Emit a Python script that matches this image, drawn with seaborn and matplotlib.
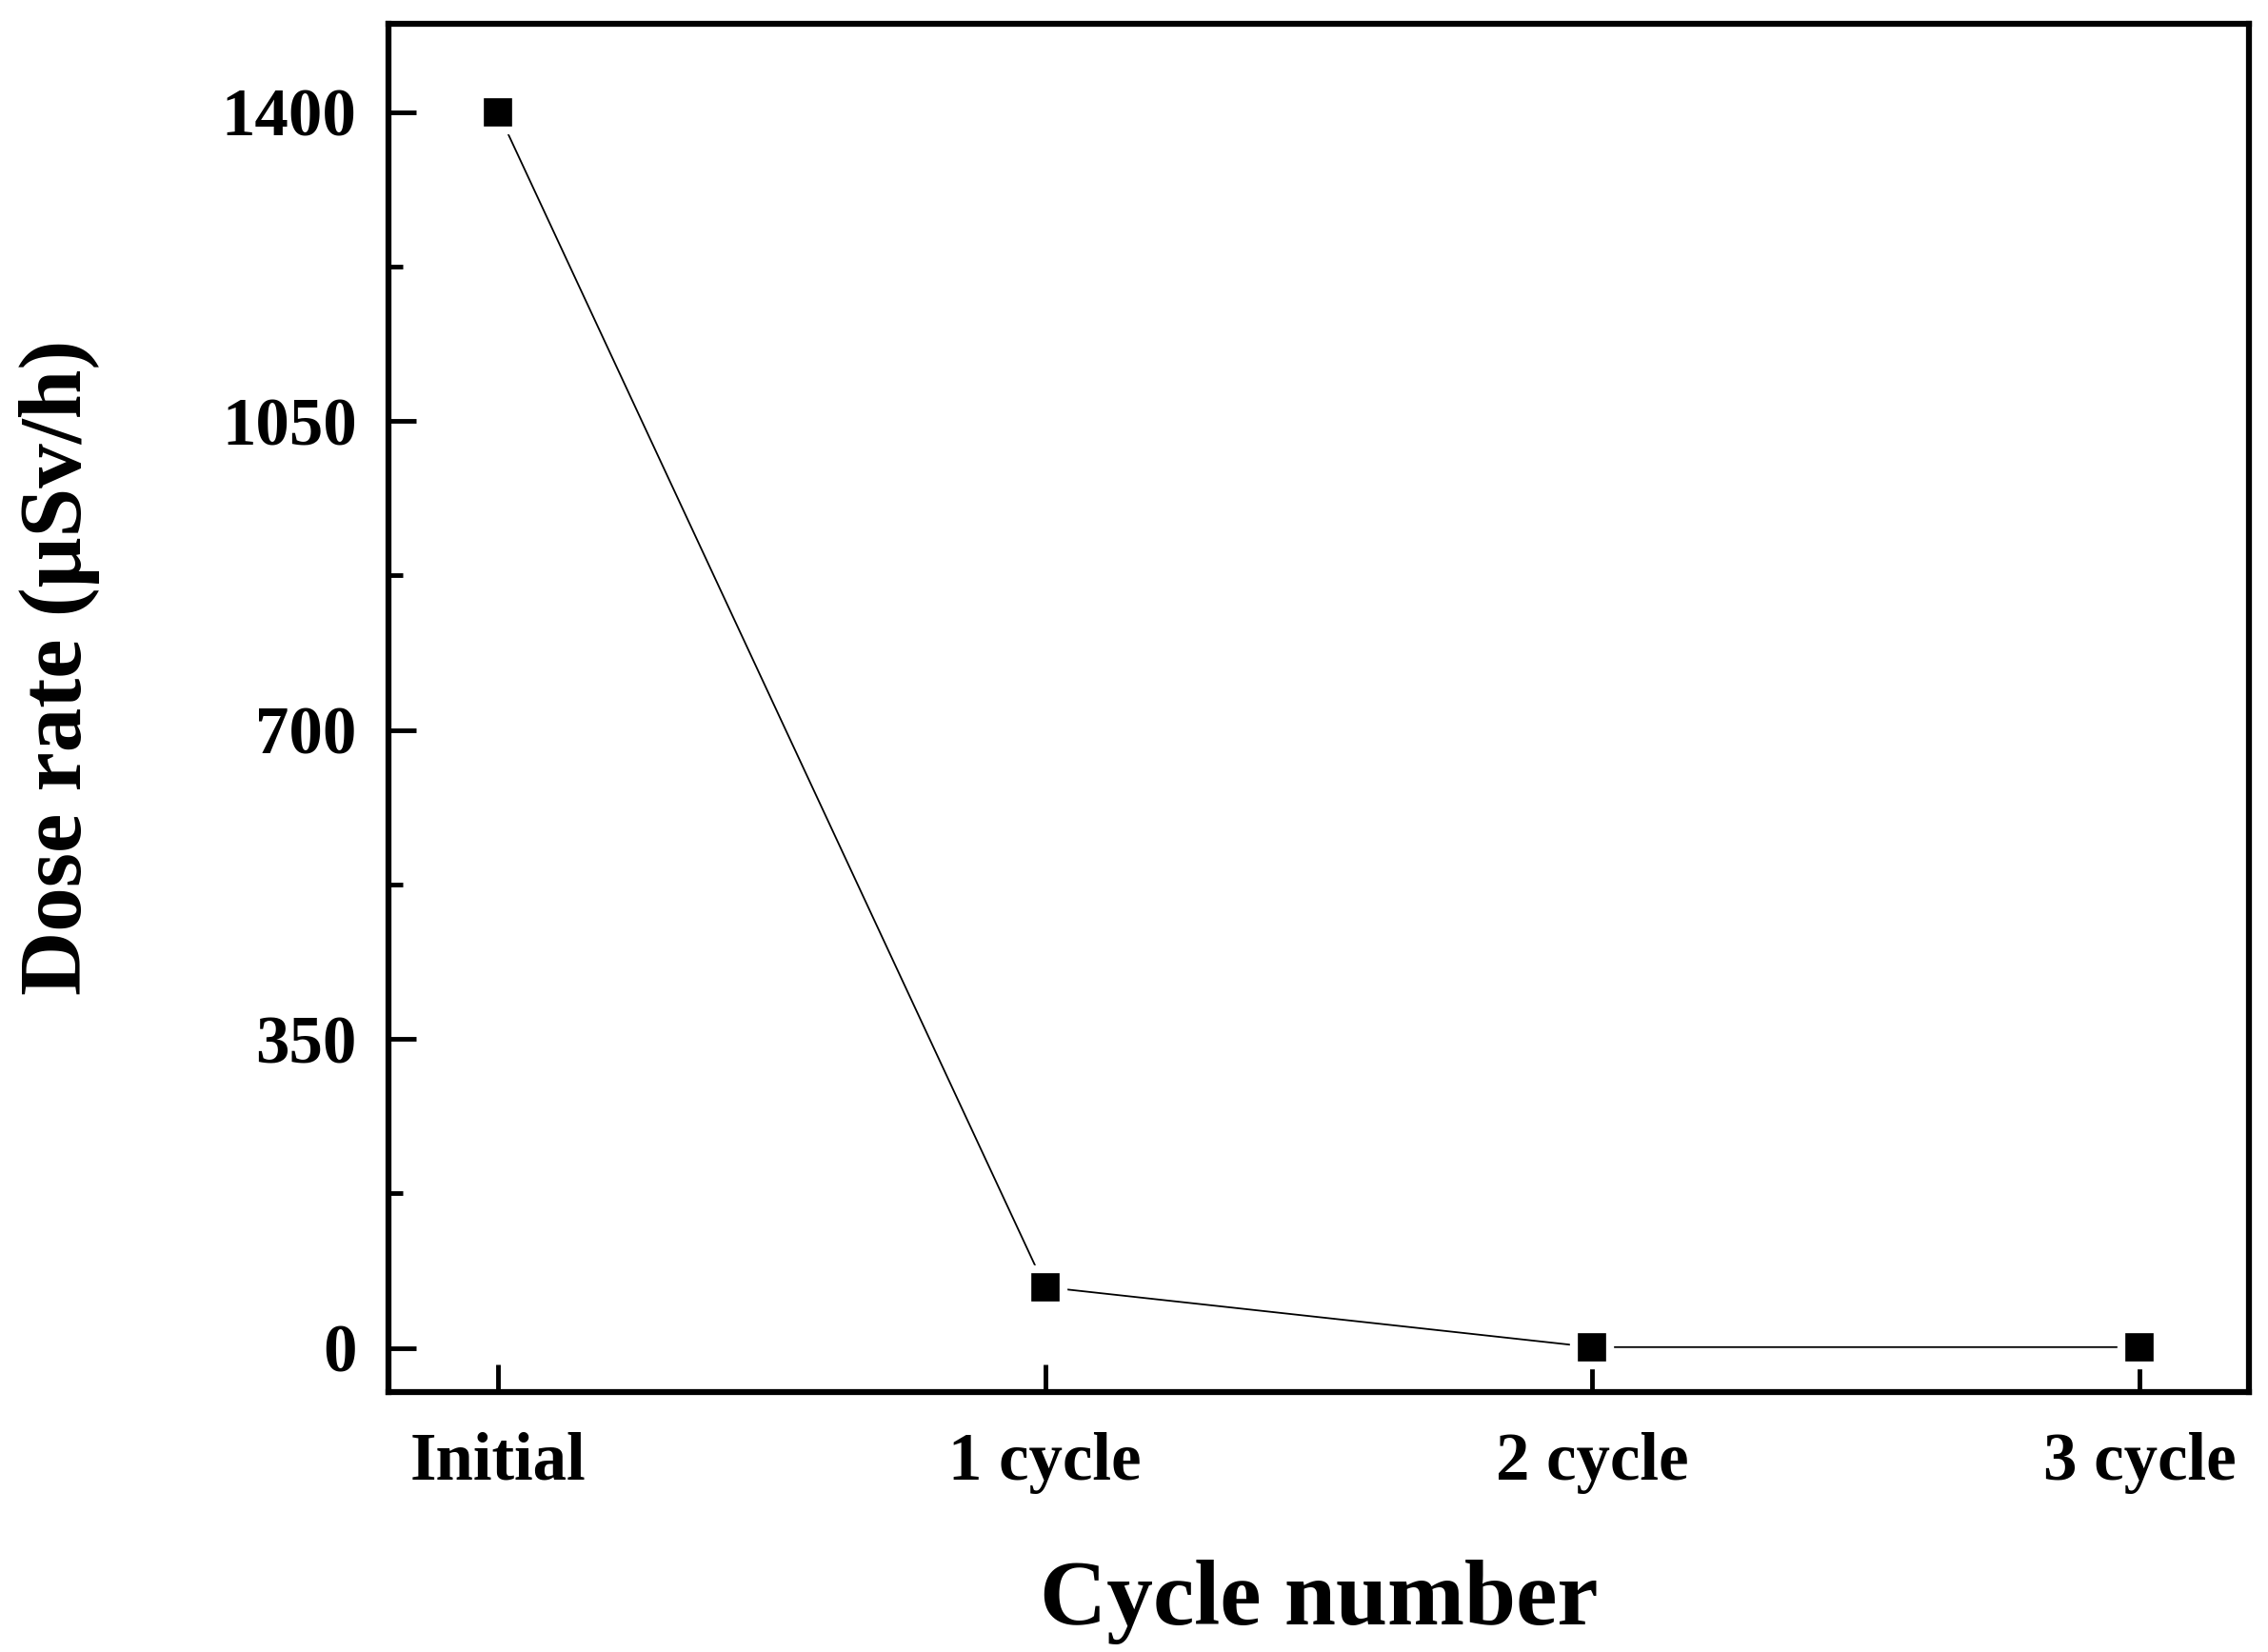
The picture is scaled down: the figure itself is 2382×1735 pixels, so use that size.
import matplotlib
matplotlib.use("Agg")
import matplotlib.pyplot as plt
import seaborn as sns
import pandas as pd
from matplotlib.ticker import MultipleLocator

categories = ["Initial", "1 cycle", "2 cycle", "3 cycle"]
dose_rate = [1400, 69, 1, 1]

df = pd.DataFrame({"x": range(len(categories)), "dose": dose_rate})

sns.set_theme(style="ticks")
plt.rcParams['font.family'] = ['Liberation Serif', 'DejaVu Serif']
plt.rcParams['font.weight'] = 'bold'
plt.rcParams['text.color'] = 'black'
plt.rcParams['axes.labelcolor'] = 'black'

fig = plt.figure(figsize=(23.82, 17.35), dpi=100)
ax = fig.add_axes([0.1713, 0.1573, 0.8203, 0.8283])

sns.lineplot(data=df, x="x", y="dose", ax=ax, color="black", linewidth=1.3,
             marker="s", markersize=28, markerfacecolor="black",
             markeredgecolor="white", markeredgewidth=6, zorder=3)

ax.set_xlim(-0.2, 3.2)
ax.set_ylim(-50, 1500)
ax.set_xticks(range(len(categories)))
ax.set_xticklabels(categories)
ax.yaxis.set_major_locator(MultipleLocator(350))
ax.yaxis.set_minor_locator(MultipleLocator(175))

for s in ax.spines.values():
    s.set_linewidth(4.5)
    s.set_color("black")

ax.tick_params(axis="both", which="major", direction="in", length=21, width=3.5,
               labelsize=51, colors="black")
ax.tick_params(axis="y", which="minor", direction="in", length=11, width=3.5,
               colors="black")
ax.tick_params(axis="y", which="major", pad=24)
ax.tick_params(axis="x", which="major", pad=30)
for lab in ax.get_xticklabels() + ax.get_yticklabels():
    lab.set_fontweight("bold")
    lab.set_color("black")

ax.set_xlabel("Cycle number", fontsize=70, fontweight="bold", color="black",
              labelpad=50)
ax.set_ylabel("Dose rate (μSv/h)", fontsize=67, fontweight="bold", color="black")
ax.yaxis.set_label_coords(-0.155, 0.53)

fig.savefig("out.png", dpi=100)
